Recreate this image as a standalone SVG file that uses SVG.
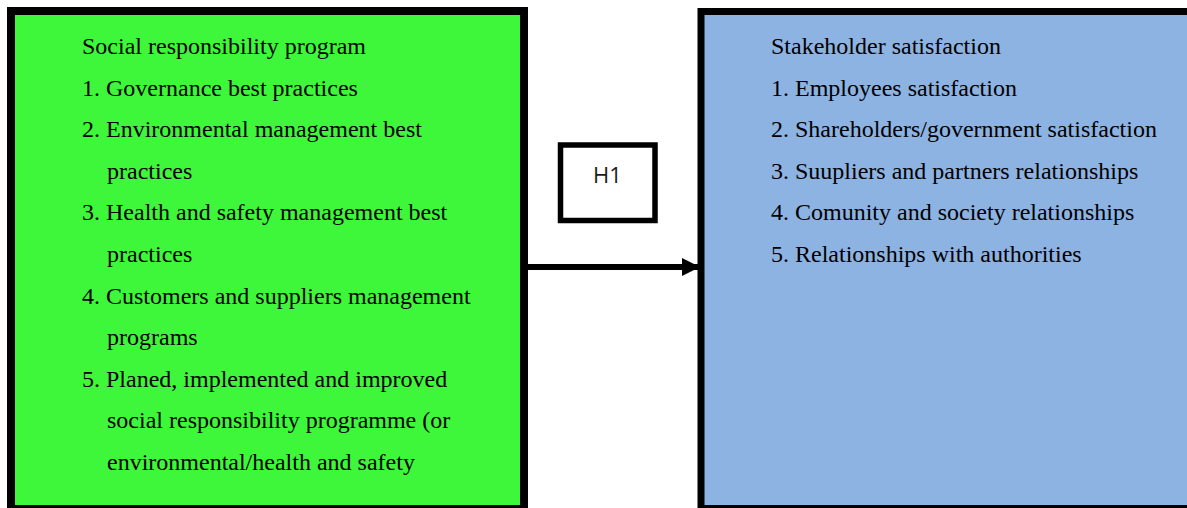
<svg xmlns="http://www.w3.org/2000/svg" width="1187" height="508" viewBox="0 0 1187 508">
<defs>
<style>
.t{font-family:"Liberation Serif","Times New Roman",serif;font-size:24px;fill:#000}
.h{font-family:"Open Sans","Liberation Sans",sans-serif;font-size:22px;fill:#1a1a1a}
</style>
<marker id="ah" viewBox="0 0 10 10" refX="10" refY="5" markerWidth="3" markerHeight="3.2" markerUnits="strokeWidth" orient="auto">
<path d="M0,0 L10,5 L0,10 z" fill="#000"/>
</marker>
</defs>
<rect width="1187" height="508" fill="#fff"/>
<g id="connectors">
<line x1="528" y1="267" x2="700" y2="267" stroke="#000" stroke-width="6" marker-end="url(#ah)"/>
</g>
<g id="node-left">
<rect x="11" y="11" width="513" height="498" fill="#3EF73A" stroke="#000" stroke-width="8"/>
<text class="t" x="82" y="54">Social responsibility program</text>
<text class="t" x="82" y="95.6">1. Governance best practices</text>
<text class="t" x="82" y="137.2">2. Environmental management best</text>
<text class="t" x="107" y="178.8">practices</text>
<text class="t" x="82" y="220.4">3. Health and safety management best</text>
<text class="t" x="107" y="262">practices</text>
<text class="t" x="82" y="303.6">4. Customers and suppliers management</text>
<text class="t" x="107" y="345.2">programs</text>
<text class="t" x="82" y="386.8">5. Planed, implemented and improved</text>
<text class="t" x="107" y="428.4">social responsibility programme (or</text>
<text class="t" x="107" y="470">environmental/health and safety</text>
</g>
<g id="node-right">
<rect x="701" y="11.5" width="490" height="497" fill="#8DB3E2" stroke="#000" stroke-width="7"/>
<text class="t" x="771" y="54">Stakeholder satisfaction</text>
<text class="t" x="771" y="95.6">1. Employees satisfaction</text>
<text class="t" x="771" y="137.2">2. Shareholders/government satisfaction</text>
<text class="t" x="771" y="178.8">3. Suupliers and partners relationships</text>
<text class="t" x="771" y="220.4">4. Comunity and society relationships</text>
<text class="t" x="771" y="262">5. Relationships with authorities</text>
</g>
<g id="node-h1">
<rect x="560.5" y="145" width="94.5" height="75.5" fill="#fff" stroke="#000" stroke-width="5.5"/>
<text class="h" x="607.5" y="183" text-anchor="middle">H1</text>
</g>
</svg>
